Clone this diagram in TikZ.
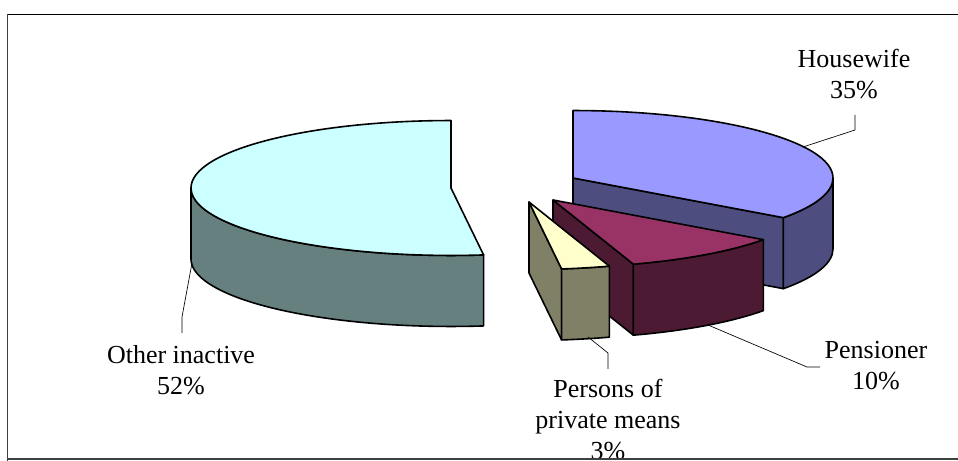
\documentclass[tikz,border=0pt]{standalone}
\usepackage{fontspec}
\setmainfont{Liberation Serif}
\usetikzlibrary{calc}

\definecolor{othTop}{HTML}{CCFFFF}
\definecolor{othSide}{HTML}{668080}
\definecolor{hwTop}{HTML}{9999FF}
\definecolor{hwSide}{HTML}{4D4D80}
\definecolor{penTop}{HTML}{993366}
\definecolor{penSide}{HTML}{4D1A33}
\definecolor{privTop}{HTML}{FFFFCC}
\definecolor{privSide}{HTML}{808066}
\definecolor{frameGray}{HTML}{404040}

\begin{document}
\begin{tikzpicture}[x=0.75pt, y=0.75pt,
    face/.style={draw=black, line width=1.2pt, line join=round},
    leader/.style={draw=black, line width=0.5pt},
    lab/.style={align=center, anchor=base, inner sep=0pt, font=\fontsize{19.5}{23.5}\selectfont}]

    \useasboundingbox (0,0) rectangle (958,461);

    % slice centres (ellipse radii 195pt and 50.6pt, depth 71)
    \coordinate (oth) at (451,273);
    \coordinate (hw) at (573,283);
    \coordinate (pen) at (553,261);
    \coordinate (priv) at (529,259);

    % other inactive
    \filldraw[face, fill=othSide] ($(oth)+(180:195pt and 50.6pt)$) arc[start angle=180, end angle=277.2, x radius=195pt, y radius=50.6pt] -- ++(0,-71) arc[start angle=277.2, end angle=180, x radius=195pt, y radius=50.6pt] -- cycle;
    \filldraw[face, fill=othTop] (oth) -- ++(90:195pt and 50.6pt) arc[start angle=90, end angle=277.2, x radius=195pt, y radius=50.6pt] -- cycle;

    % housewife
    \filldraw[face, fill=hwSide] (hw) -- ++(-36:195pt and 50.6pt) -- ++(0,-71) -- ($(hw)+(0,-71)$) -- cycle;
    \filldraw[face, fill=hwSide] ($(hw)+(-36:195pt and 50.6pt)$) arc[start angle=-36, end angle=0, x radius=195pt, y radius=50.6pt] -- ++(0,-71) arc[start angle=0, end angle=-36, x radius=195pt, y radius=50.6pt] -- cycle;
    \filldraw[face, fill=hwTop] (hw) -- ++(90:195pt and 50.6pt) arc[start angle=90, end angle=-36, x radius=195pt, y radius=50.6pt] -- cycle;

    % pensioner
    \filldraw[face, fill=penSide] (pen) -- ++(-72:195pt and 50.6pt) -- ++(0,-71) -- ($(pen)+(0,-71)$) -- cycle;
    \filldraw[face, fill=penSide] ($(pen)+(-72:195pt and 50.6pt)$) arc[start angle=-72, end angle=-36, x radius=195pt, y radius=50.6pt] -- ++(0,-71) arc[start angle=-36, end angle=-72, x radius=195pt, y radius=50.6pt] -- cycle;
    \filldraw[face, fill=penTop] (pen) -- ++(-36:195pt and 50.6pt) arc[start angle=-36, end angle=-72, x radius=195pt, y radius=50.6pt] -- cycle;

    % persons of private means
    \filldraw[face, fill=privSide] (priv) -- ++(-82.8:195pt and 50.6pt) -- ++(0,-71) -- ($(priv)+(0,-71)$) -- cycle;
    \filldraw[face, fill=privSide] ($(priv)+(-82.8:195pt and 50.6pt)$) arc[start angle=-82.8, end angle=-72, x radius=195pt, y radius=50.6pt] -- ++(0,-71) arc[start angle=-72, end angle=-82.8, x radius=195pt, y radius=50.6pt] -- cycle;
    \filldraw[face, fill=privTop] (priv) -- ++(-72:195pt and 50.6pt) arc[start angle=-72, end angle=-82.8, x radius=195pt, y radius=50.6pt] -- cycle;

    % labels (placed by the baseline of their last line)
    \node[lab] (othlab) at (181,66) {Other inactive\\52\%};
    \node[lab] (hwlab) at (854,362) {Housewife\\35\%};
    \node[lab] (penlab) at (876,71) {Pensioner\\10\%};
    \node[lab] (privlab) at (608,1) {Persons of\\private means\\3\%};

    % leader lines
    \coordinate (othtip) at (192,198);
    \coordinate (othknee) at (182,144);
    \coordinate (othend) at (182,128);
    \coordinate (hwtip) at (803,314);
    \coordinate (hwknee) at (855,331);
    \coordinate (hwend) at (855,346);
    \coordinate (pentip) at (708,136);
    \coordinate (penknee) at (807,94);
    \coordinate (penend) at (820,94);
    \coordinate (privtip) at (588,124);
    \coordinate (privknee) at (608,108);
    \coordinate (privend) at (608,92);
    \draw[leader] (othtip) -- (othknee) -- (othend);
    \draw[leader] (hwtip) -- (hwknee) -- (hwend);
    \draw[leader] (pentip) -- (penknee) -- (penend);
    \draw[leader] (privtip) -- (privknee) -- (privend);

    % frame
    \draw[line width=0.8pt] (7,446.5) -- (958,446.5);
    \draw[line width=0.8pt, color=frameGray] (7.5,446.5) -- (7.5,0);
    \draw[line width=1.6pt, color=frameGray] (7,2) -- (958,2);

\end{tikzpicture}
\end{document}
